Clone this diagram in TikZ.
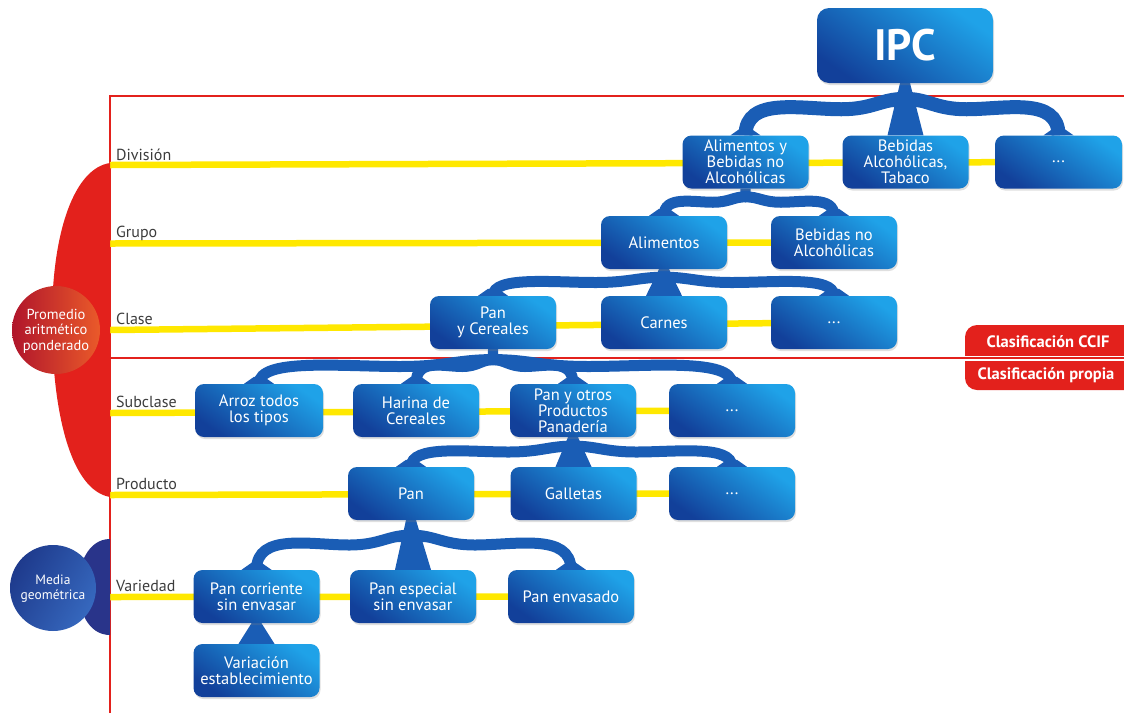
\documentclass[tikz,border=0pt]{standalone}
\usepackage{fontspec}
\setmainfont{PT Sans}
\usetikzlibrary{calc,shadows,backgrounds}
\definecolor{boxlight}{HTML}{1FA2E8}
\definecolor{boxdark}{HTML}{12409A}
\definecolor{bandblue}{HTML}{1A5DB5}
\definecolor{lvlyellow}{HTML}{FFE800}
\definecolor{framered}{HTML}{E3211C}
\definecolor{lblgray}{HTML}{3C3C3C}
\definecolor{navyhalf}{HTML}{29348A}
\definecolor{circblueA}{HTML}{1E3A8C}
\definecolor{circblueB}{HTML}{3668BE}
\definecolor{circredA}{HTML}{B0152B}
\definecolor{circredB}{HTML}{EA5A2A}
\tikzset{
 box/.style={rounded corners=9pt, minimum width=126pt, minimum height=53pt, inner sep=0pt,
   align=center, text=white, font=\fontsize{16.5}{16}\selectfont,
   top color=boxlight, bottom color=boxdark, shading angle=-35,
   drop shadow={shadow xshift=1pt, shadow yshift=-2pt, opacity=0.25}},
 lvl/.style={anchor=base west, text=lblgray, font=\fontsize{16}{18}\selectfont, inner sep=0pt},
 yline/.style={lvlyellow, line width=6.5pt},
 rline/.style={framered, line width=2pt},
 redlbl/.style={text=white, font=\bfseries\fontsize{16.5}{18}\selectfont, inner sep=0pt},
 circtext/.style={text=white, align=center, inner sep=0pt},
}
% band from parent to child: leaves the stem sideways, small dip, arch onto the child
\newcommand\bandto[3][11pt]{%
 \draw[bandblue, line width=#1] let \p1=(#2.south), \p2=(#3.north), \n1={\y1-\y2}, \n2={\x2-\x1} in
 (\x1,{\y1-0.3*\n1}) .. controls ({\x1+0.15*\n2},{\y1-0.3*\n1}) and ({\x1+0.2*\n2},{\y1-0.5*\n1}) .. ({\x1+0.4*\n2},{\y1-0.5*\n1})
 .. controls ({\x1+0.65*\n2},{\y1-0.5*\n1}) and (\x2,{\y2+0.75*\n1}) .. (\p2);
 \fill[bandblue] let \p2=(#3.north) in (\x2-15pt,\y2) -- (\x2+15pt,\y2) -- (\x2+5pt,\y2+7pt) -- (\x2-5pt,\y2+7pt) -- cycle;
}
\newcommand\forkat[2][14pt]{\fill[bandblue] let \p1=(#2.south) in (\x1-5pt,\y1) .. controls (\x1-5pt,\y1-0.5*#1) .. (\x1-20pt,\y1-#1) -- (\x1+20pt,\y1-#1) .. controls (\x1+5pt,\y1-0.5*#1) .. (\x1+5pt,\y1) -- cycle;}
\newcommand\stemto[2]{\fill[bandblue] let \p1=(#1.south), \p2=(#2.north) in (\x1-5pt,\y1) -- (\x1+5pt,\y1) -- (\x2+18pt,\y2) -- (\x2-18pt,\y2) -- cycle;}
\begin{document}
\begin{tikzpicture}[x=1pt,y=-1pt]
\useasboundingbox (0,0) rectangle (1124,713);
% red half shape and circles
\fill[framered] (110,163) .. controls (75,168) and (52,230) .. (52,320) .. controls (52,410) and (70,490) .. (110,497) -- cycle;
\fill[navyhalf] (110,539) .. controls (88,539) and (78,565) .. (78,587) .. controls (78,610) and (88,635) .. (110,635) -- cycle;
\shade[left color=circredA, right color=circredB] (56,330) circle (44);
\node[circtext, font=\fontsize{14.5}{15.5}\selectfont] (prom) at (56,331) {Promedio\\aritmético\\ponderado};
\shade[left color=circblueA, right color=circblueB, shading angle=60] (53,588) circle (43);
\node[circtext, font=\fontsize{13.5}{15}\selectfont] (media) at (53,589) {Media\\geométrica};
% boxes
\node[box, minimum width=176pt, minimum height=75pt, rounded corners=12pt, font=\bfseries\fontsize{44}{44}\selectfont] (ipc) at (905,45.5) {IPC};
\node[box] (d1) at (745.5,162) {Alimentos y\\Bebidas no\\Alcohólicas};
\node[box] (d2) at (905.5,162) {Bebidas\\Alcohólicas,\\Tabaco};
\node[box, minimum width=127pt] (d3) at (1058.5,162) {...};
\node[box] (g1) at (664,242.5) {Alimentos};
\node[box] (g2) at (834,242.5) {Bebidas no\\Alcohólicas};
\node[box] (c1) at (493,322.5) {Pan\\y Cereales};
\node[box] (c2) at (664,322.5) {Carnes};
\node[box] (c3) at (834,322.5) {...};
\node[box, minimum width=128pt] (s1) at (259,410.5) {Arroz todos\\los tipos};
\node[box] (s2) at (416,410.5) {Harina de\\Cereales};
\node[box] (s3) at (573,410.5) {Pan y otros\\Productos\\Panadería};
\node[box] (s4) at (732,410.5) {...};
\node[box] (p1) at (411,493.5) {Pan};
\node[box] (p2) at (573.5,493.5) {Galletas};
\node[box] (p3) at (732,493.5) {...};
\node[box] (v1) at (256.5,596.5) {Pan corriente\\sin envasar};
\node[box] (v2) at (413,596.5) {Pan especial\\sin envasar};
\node[box] (v3) at (571,596.5) {Pan envasado};
\node[box] (w1) at (256.5,670.5) {Variación\\establecimiento};
% level labels
\node[lvl] (lDiv) at (116,160) {División};
\node[lvl] (lGru) at (116,237.5) {Grupo};
\node[lvl] (lCla) at (116,324) {Clase};
\node[lvl] (lSub) at (116,407) {Subclase};
\node[lvl] (lPro) at (116,489) {Producto};
\node[lvl] (lVar) at (116,591) {Variedad};
% red labels
\fill[framered, rounded corners=12pt] (1124,325) -- (965,325) -- (965,390) -- (1124,390);
\draw[white, line width=5pt] (963,358) -- (1124,358);
\draw[rline, line width=1.5pt] (963,358) -- (1124,358);
\node[redlbl] (ccif) at (1048,342) {Clasificación CCIF};
\node[redlbl] (propia) at (1046,375) {Clasificación propia};
\begin{scope}[on background layer]
 \draw[rline] (110,713) -- (110,96) -- (1124,96);
 \draw[rline] (110,358) -- (965,358);
 \draw[yline] (110,165) -- (d3.center);
 \draw[yline] (110,243.5) -- (g2.center);
 \draw[yline] (110,330) -- (c3.center);
 \draw[yline] (110,413) -- (s4.center);
 \draw[yline] (110,495) -- (p3.center);
 \draw[yline] (110,597) -- (v3.center);
 % connectors
 \forkat[24pt]{ipc}
 \bandto[14pt]{ipc}{d1}
 \stemto{ipc}{d2}
 \bandto[14pt]{ipc}{d3}
 \forkat[13pt]{d1}
 \bandto{d1}{g1}
 \bandto{d1}{g2}
 \forkat[12pt]{g1}
 \bandto{g1}{c1}
 \stemto{g1}{c2}
 \bandto{g1}{c3}
 \forkat[16pt]{c1}
 \bandto{c1}{s1}
 \bandto{c1}{s2}
 \bandto{c1}{s3}
 \bandto{c1}{s4}
 \forkat[14pt]{s3}
 \bandto{s3}{p1}
 \stemto{s3}{p2}
 \bandto{s3}{p3}
 \forkat[22pt]{p1}
 \bandto{p1}{v1}
 \stemto{p1}{v2}
 \bandto{p1}{v3}
 \stemto{v1}{w1}
\end{scope}
\end{tikzpicture}
\end{document}
